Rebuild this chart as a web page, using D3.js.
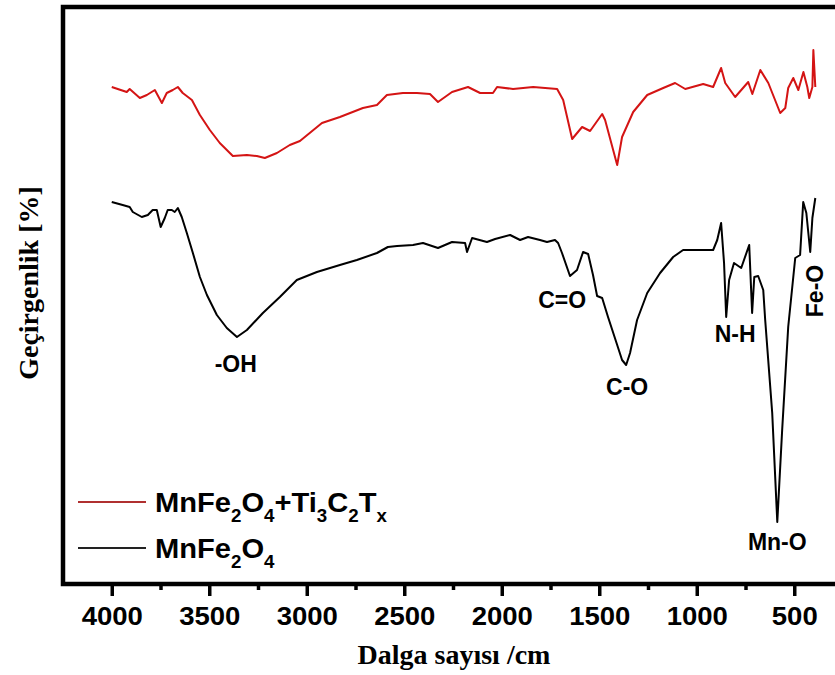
<!DOCTYPE html>
<html>
<head>
<meta charset="utf-8">
<script src="https://cdn.jsdelivr.net/npm/d3@7"></script>
<style>
  body { margin: 0; background: #fff; }
  svg { display: block; }
</style>
</head>
<body>
<div id="chart"></div>
<script>
// FTIR spectra, transmittance in arbitrary units (no y ticks on the original)

// MnFe2O4 + Ti3C2Tx
var redWn = [4000, 3923, 3908, 3856, 3820, 3779, 3743, 3718, 3687, 3661, 3636, 3589, 3548, 3497, 3446, 3379,
    3307, 3256, 3215, 3153, 3087, 3035, 2922, 2830, 2712, 2640, 2589, 2507, 2435, 2368, 2327, 2255, 2173,
    2111, 2045, 2024, 1942, 1839, 1716, 1685, 1639, 1588, 1547, 1485, 1470, 1408, 1383, 1326, 1254, 1172,
    1111, 1059, 967, 916, 875, 854, 803, 736, 715, 674, 633, 572, 546, 531, 505, 479, 453, 433, 423, 407, 402, 392];
var redT = [497, 492, 495, 486, 489, 494, 481, 491, 494, 497, 491, 484, 469, 454, 441, 428,
    429, 428, 426, 431, 439, 443, 461, 467, 476, 479, 489, 491, 491, 490, 482, 492, 497,
    491, 491, 497, 495, 497, 495, 484, 445, 457, 453, 470, 464, 419, 447, 472, 489, 496,
    501, 495, 500, 497, 516, 501, 487, 502, 490, 514, 501, 471, 476, 496, 506, 494, 512, 497, 486, 497, 534, 497];

// MnFe2O4
var blackWn = [4000, 3944, 3908, 3892, 3846, 3815, 3790, 3769, 3749, 3728, 3713, 3692, 3677, 3661, 3641, 3615,
    3584, 3548, 3512, 3461, 3410, 3358, 3307, 3225, 3138, 3051, 2948, 2830, 2743, 2640, 2584, 2537, 2455,
    2404, 2327, 2255, 2188, 2178, 2152, 2076, 2034, 1957, 1906, 1865, 1804, 1768, 1727, 1711, 1691, 1650,
    1614, 1583, 1557, 1532, 1511, 1485, 1455, 1408, 1383, 1362, 1342, 1306, 1254, 1188, 1121, 1070, 998,
    916, 895, 875, 860, 849, 834, 809, 772, 731, 716, 705, 685, 659, 649, 613, 587, 562, 531, 495, 470,
    454, 438, 418, 407, 392];
var blackT = [382, 379, 377, 372, 367, 369, 374, 374, 357, 366, 374, 374, 372, 376, 367, 351,
    331, 307, 289, 269, 256, 247, 254, 271, 287, 304, 312, 319, 324, 331, 337, 338, 339,
    341, 336, 342, 341, 332, 346, 342, 345, 349, 344, 347, 344, 342, 344, 341, 331, 308,
    314, 332, 330, 309, 288, 286, 267, 239, 224, 219, 231, 264, 291, 311, 327, 334, 334,
    334, 344, 361, 321, 267, 304, 321, 316, 339, 271, 307, 308, 294, 264, 171, 62, 154, 257, 326, 329,
    382, 371, 332, 366, 386];

var majorTicks = [4000, 3500, 3000, 2500, 2000, 1500, 1000, 500];
var minorTicks = [3750, 3250, 2750, 2250, 1750, 1250, 750];

var seriesNames = ["MnFe2O4+Ti3C2Tx", "MnFe2O4"];
var seriesColors = ["#d41414", "#000000"];

// peak labels: [text, wavenumber, transmittance at baseline, rotated]
var peakLabels = [
    ["-OH", 3364, 212, false],
    ["C=O", 1690, 276, false],
    ["C-O", 1357, 189, false],
    ["N-H", 803, 242, false],
    ["Mn-O", 587, 34, false],
    ["Fe-O", 355, 293, true]
];

/******************************************/

var W = 835, H = 675;
var plotLeft = 63, plotRight = 843, plotTop = 7, plotBottom = 584;

var svg = d3.select("#chart").append("svg")
    .attr("width", W)
    .attr("height", H);

var x = d3.scaleLinear().domain([4250, 250]).range([plotLeft, plotRight]);
var y = d3.scaleLinear().domain([0, 577]).range([plotBottom, plotTop]);

var line = d3.line()
    .x(function(d) { return x(d[0]); })
    .y(function(d) { return y(d[1]); });

function pairs(a, b) {
    return a.map(function(v, i) { return [v, b[i]]; });
}

svg.append("path")
    .datum(pairs(redWn, redT))
    .attr("d", line)
    .attr("fill", "none")
    .attr("stroke", seriesColors[0])
    .attr("stroke-width", 2)
    .attr("stroke-linejoin", "round");

svg.append("path")
    .datum(pairs(blackWn, blackT))
    .attr("d", line)
    .attr("fill", "none")
    .attr("stroke", seriesColors[1])
    .attr("stroke-width", 2)
    .attr("stroke-linejoin", "round");

// frame
svg.append("rect")
    .attr("x", plotLeft)
    .attr("y", plotTop)
    .attr("width", plotRight - plotLeft)
    .attr("height", plotBottom - plotTop)
    .attr("fill", "none")
    .attr("stroke", "#000")
    .attr("stroke-width", 4.5);

// x axis, major ticks
var xAxis = svg.append("g")
    .attr("transform", "translate(0," + plotBottom + ")")
    .call(d3.axisBottom(x).tickValues(majorTicks).tickSize(12).tickFormat(d3.format("d")));
xAxis.select(".domain").remove();
xAxis.selectAll("line").attr("stroke-width", 3.5);
xAxis.selectAll("text")
    .attr("y", 23)
    .attr("transform", "scale(1.1,1)")
    .style("font-family", "'Liberation Sans', Arial, sans-serif")
    .style("font-weight", "bold")
    .style("font-size", "25px")
    .attr("fill", "#000");

// minor ticks
var xMinor = svg.append("g")
    .attr("transform", "translate(0," + plotBottom + ")")
    .call(d3.axisBottom(x).tickValues(minorTicks).tickSize(6).tickFormat(""));
xMinor.select(".domain").remove();
xMinor.selectAll("line").attr("stroke-width", 3.5);

// axis titles
svg.append("text")
    .attr("x", 454)
    .attr("y", 664)
    .attr("text-anchor", "middle")
    .style("font-family", "'Liberation Serif', 'Times New Roman', serif")
    .style("font-weight", "bold")
    .style("font-size", "28px")
    .text("Dalga sayısı /cm");

svg.append("text")
    .attr("transform", "translate(38,283) rotate(-90)")
    .attr("text-anchor", "middle")
    .style("font-family", "'Liberation Serif', 'Times New Roman', serif")
    .style("font-weight", "bold")
    .style("font-size", "28px")
    .text("Geçirgenlik [%]");

// peak labels
peakLabels.forEach(function(p) {
    var t = svg.append("text")
        .attr("text-anchor", "middle")
        .style("font-family", "'Liberation Sans', Arial, sans-serif")
        .style("font-weight", "bold")
        .style("font-size", "23px")
        .text(p[0]);
    if (p[3]) {
        t.attr("transform", "translate(" + x(p[1]) + "," + y(p[2]) + ") rotate(-90)");
    } else {
        t.attr("x", x(p[1])).attr("y", y(p[2]));
    }
});

// legend
function formula(sel, parts) {
    // parts: [text, isSub]
    parts.forEach(function(p, i) {
        var prevSub = i > 0 && parts[i - 1][1];
        var ts = sel.append("tspan").text(p[0]);
        if (p[1] && !prevSub) ts.attr("dy", 10).style("font-size", "18px");
        else if (p[1]) ts.style("font-size", "18px");
        else if (prevSub) ts.attr("dy", -10);
    });
}

var legendRows = [
    [["MnFe", 0], ["2", 1], ["O", 0], ["4", 1], ["+Ti", 0], ["3", 1], ["C", 0], ["2", 1], ["T", 0], ["x", 1]],
    [["MnFe", 0], ["2", 1], ["O", 0], ["4", 1]]
];
var legendY = [502, 548];

legendRows.forEach(function(parts, i) {
    svg.append("line")
        .attr("x1", 78).attr("x2", 146)
        .attr("y1", legendY[i]).attr("y2", legendY[i])
        .attr("stroke", i === 0 ? "#b03030" : "#222")
        .attr("stroke-width", 2);
    var t = svg.append("text")
        .attr("transform", "translate(155," + (legendY[i] + 10) + ") scale(1.04,1)")
        .style("font-family", "'Liberation Sans', Arial, sans-serif")
        .style("font-weight", "bold")
        .style("font-size", "28px");
    formula(t, parts);
});
</script>
</body>
</html>
